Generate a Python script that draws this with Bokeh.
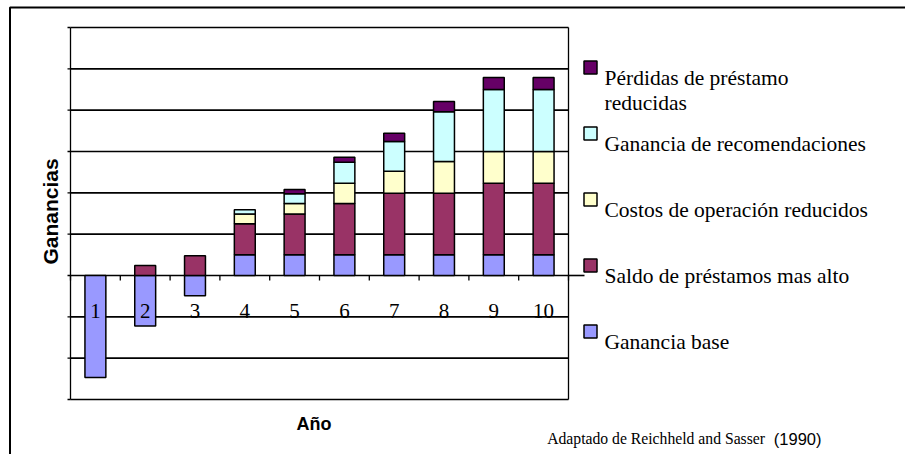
import numpy as np
from bokeh.plotting import figure
from bokeh.models import Range1d
from bokeh.core.properties import value
from bokeh.embed import file_html
from bokeh.resources import INLINE

# ---------------- data ----------------
years = ["1", "2", "3", "4", "5", "6", "7", "8", "9", "10"]
series_names = [
    "Ganancia base",
    "Saldo de préstamos mas alto",
    "Costos de operación reducidos",
    "Ganancia de recomendaciones",
    "Pérdidas de préstamo\nreducidas",
]
ganancia_base = [-2.47, -1.22, -0.49, 0.5, 0.5, 0.5, 0.5, 0.5, 0.5, 0.5]
saldo_prestamos = [0.0, 0.24, 0.48, 0.75, 0.99, 1.24, 1.49, 1.49, 1.73, 1.73]
costos_operacion = [0.0, 0.0, 0.0, 0.24, 0.25, 0.49, 0.53, 0.77, 0.77, 0.77]
recomendaciones = [0.0, 0.0, 0.0, 0.1, 0.24, 0.51, 0.72, 1.2, 1.5, 1.5]
perdidas_prestamo = [0.0, 0.0, 0.0, 0.0, 0.1, 0.12, 0.2, 0.25, 0.29, 0.29]
series_colors = ["#9999FF", "#993366", "#FFFFCC", "#CCFFFF", "#660066"]
y_ticks = [-3, -2, -1, 0, 1, 2, 3, 4, 5, 6]
x_title = "Año"
y_title = "Ganancias"
source_text = "Adaptado de Reichheld and Sasser"
source_year = "(1990)"

series = [ganancia_base, saldo_prestamos, costos_operacion, recomendaciones, perdidas_prestamo]

# ---------------- layout (page pixels; canvas sits at the page origin) ----------------
W, H = 905, 454
M = 0
PLOT_L, PLOT_R, PLOT_T, PLOT_B = 70.0, 568.0, 27.0, 399.0
n = len(years)
y_min, y_max = min(y_ticks), max(y_ticks)
ux = (PLOT_R - PLOT_L) / n
uy = (PLOT_B - PLOT_T) / (y_max - y_min)


def X(px):
    return 0.5 + (px - PLOT_L) / ux


def Y(py):
    return y_max - (py - PLOT_T) / uy


p = figure(width=W, height=H, output_backend="svg", toolbar_location=None,
           x_range=Range1d(X(M), X(M + W)), y_range=Range1d(Y(M + H), Y(M)),
           x_axis_location=None, y_axis_location=None, min_border=0)
p.min_border_left = p.min_border_right = p.min_border_top = p.min_border_bottom = 0
p.xgrid.visible = False
p.ygrid.visible = False
p.outline_line_color = None
p.background_fill_color = "white"
p.border_fill_color = "white"

BLACK = "black"

# outer frame
p.quad(left=[X(9.5)], right=[X(3000)], top=[Y(7)], bottom=[Y(3000)],
       fill_color=None, line_color=BLACK, line_width=2)

# grid lines
p.segment(x0=[0.5] * len(y_ticks), x1=[n + 0.5] * len(y_ticks), y0=y_ticks, y1=y_ticks,
          line_color=BLACK, line_width=1.6)
# zero line running into the legend
p.segment(x0=[n + 0.5], x1=[X(584)], y0=[0], y1=[0], line_color=BLACK, line_width=1.6)
# plot borders left / right
p.segment(x0=[0.5, n + 0.5], x1=[0.5, n + 0.5], y0=[y_min] * 2, y1=[y_max] * 2,
          line_color=BLACK, line_width=1.3)
# y ticks
p.segment(x0=[X(PLOT_L - 3)] * len(y_ticks), x1=[0.5] * len(y_ticks), y0=y_ticks, y1=y_ticks,
          line_color=BLACK, line_width=1.3)
# x ticks on the zero line (category boundaries)
bounds = np.arange(0.5, n + 1.0, 1.0)
p.segment(x0=bounds, x1=bounds, y0=[0] * len(bounds), y1=[-5.0 / uy] * len(bounds),
          line_color=BLACK, line_width=1.3)

# stacked bars (positive and negative stacked separately)
xs = np.arange(1, n + 1)
pos = np.zeros(n)
neg = np.zeros(n)
for vals, col in zip(series, series_colors):
    v = np.array(vals, dtype=float)
    bottom = np.where(v >= 0, pos, neg)
    top = bottom + v
    pos = pos + np.maximum(v, 0)
    neg = neg + np.minimum(v, 0)
    mask = v != 0
    p.vbar(x=xs[mask], width=0.42, bottom=bottom[mask], top=top[mask],
           fill_color=col, line_color=BLACK, line_width=1.5)

# category labels
p.text(x=xs, y=[Y(310.3)] * n, text=years, text_font=value("Liberation Serif"),
       text_font_size="21px", text_align="center", text_baseline="middle", text_color=BLACK)

# axis titles
p.text(x=[X(49.7)], y=[Y(211)], text=[y_title], angle=np.pi / 2,
       text_font=value("Liberation Sans"), text_font_style="bold", text_font_size="21px",
       text_align="center", text_baseline="middle", text_color=BLACK)
p.text(x=[X(313.5)], y=[Y(423)], text=[x_title],
       text_font=value("Liberation Sans"), text_font_style="bold", text_font_size="18px",
       text_align="center", text_baseline="alphabetic", text_color=BLACK)

# legend (top entry = last series)
LEG_TOP, LEG_STEP = 67.0, 66.0
sq_x, sq_y, sq_c = [], [], []
tx, ty, tt = [], [], []
for k, idx in enumerate(reversed(range(len(series_names)))):
    cy = LEG_TOP + LEG_STEP * k
    sq_x.append(X(590))
    sq_y.append(Y(cy))
    sq_c.append(series_colors[idx])
    for j, line in enumerate(series_names[idx].split("\n")):
        tx.append(X(604))
        ty.append(Y(cy + 10.3 + 25.4 * j))
        tt.append(line)
p.rect(x=sq_x, y=sq_y, width=13, height=13, width_units="screen", height_units="screen",
       fill_color=sq_c, line_color=BLACK, line_width=1.5)
p.text(x=tx, y=ty, text=tt, text_font=value("Liberation Serif"), text_font_size="21.5px",
       text_align="left", text_baseline="alphabetic", text_color=BLACK)

# source note
p.text(x=[X(546.7)], y=[Y(438)], text=[source_text], text_font=value("Liberation Serif"),
       text_font_size="15.7px", text_align="left", text_baseline="alphabetic", text_color=BLACK)
p.text(x=[X(821)], y=[Y(438)], text=[source_year], text_font=value("Liberation Sans"),
       text_font_size="16.5px", text_align="right", text_baseline="alphabetic", text_color=BLACK)

open("out.html", "w").write(file_html(p, INLINE))
